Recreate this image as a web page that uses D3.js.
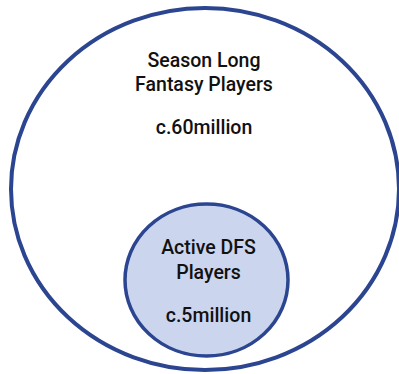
<!DOCTYPE html>
<html>
<head>
<meta charset="utf-8">
<script src="https://cdn.jsdelivr.net/npm/d3@7"></script>
<style>
  html, body { margin: 0; padding: 0; background: #fff; }
  svg { display: block; }
</style>
</head>
<body>
<svg id="chart" width="399" height="374"></svg>
<script>
// Player groups, outer set first
const groups = ["Season Long Fantasy Players", "Active DFS Players"];
const titleLines = [["Season Long", "Fantasy Players"], ["Active DFS", "Players"]];
const playersMillions = [60, 5];
const valueLabels = ["c.60million", "c.5million"];

const svg = d3.select("#chart");

// Geometry of each set: outer ellipse fills the frame, inner circle sits at its base
const shapes = [
  { cx: 205, cy: 189, rx: 194, ry: 181, fill: "#ffffff", stroke: "#2b4590", sw: 4 },
  { cx: 206.5, cy: 280, rx: 81.5, ry: 76, fill: "#ccd5ee", stroke: "#2b4590", sw: 3.5 }
];
// Text anchors relative to each set
const textPos = [
  { x: 204, lines: [67, 91], value: 134 },
  { x: 208.5, lines: [254, 279], value: 322 }
];

const data = groups.map((g, i) => ({
  name: g,
  lines: titleLines[i],
  value: playersMillions[i],
  label: valueLabels[i],
  shape: shapes[i],
  pos: textPos[i]
}));

const g = svg.selectAll("g.set")
  .data(data)
  .join("g")
  .attr("class", "set");

g.append("ellipse")
  .attr("cx", d => d.shape.cx)
  .attr("cy", d => d.shape.cy)
  .attr("rx", d => d.shape.rx)
  .attr("ry", d => d.shape.ry)
  .attr("fill", d => d.shape.fill)
  .attr("stroke", d => d.shape.stroke)
  .attr("stroke-width", d => d.shape.sw);

const font = "Roboto, 'Liberation Sans', Arial, sans-serif";

function label(sel, x, y, txt) {
  sel.append("text")
    .attr("x", x)
    .attr("y", y)
    .attr("text-anchor", "middle")
    .attr("font-family", font)
    .attr("font-weight", 500)
    .attr("font-size", 19.5)
    .attr("fill", "#111")
    .text(txt);
}

g.each(function(d) {
  const sel = d3.select(this);
  d.lines.forEach((line, j) => label(sel, d.pos.x, d.pos.lines[j], line));
  label(sel, d.pos.x, d.pos.value, d.label);
});
</script>
</body>
</html>
